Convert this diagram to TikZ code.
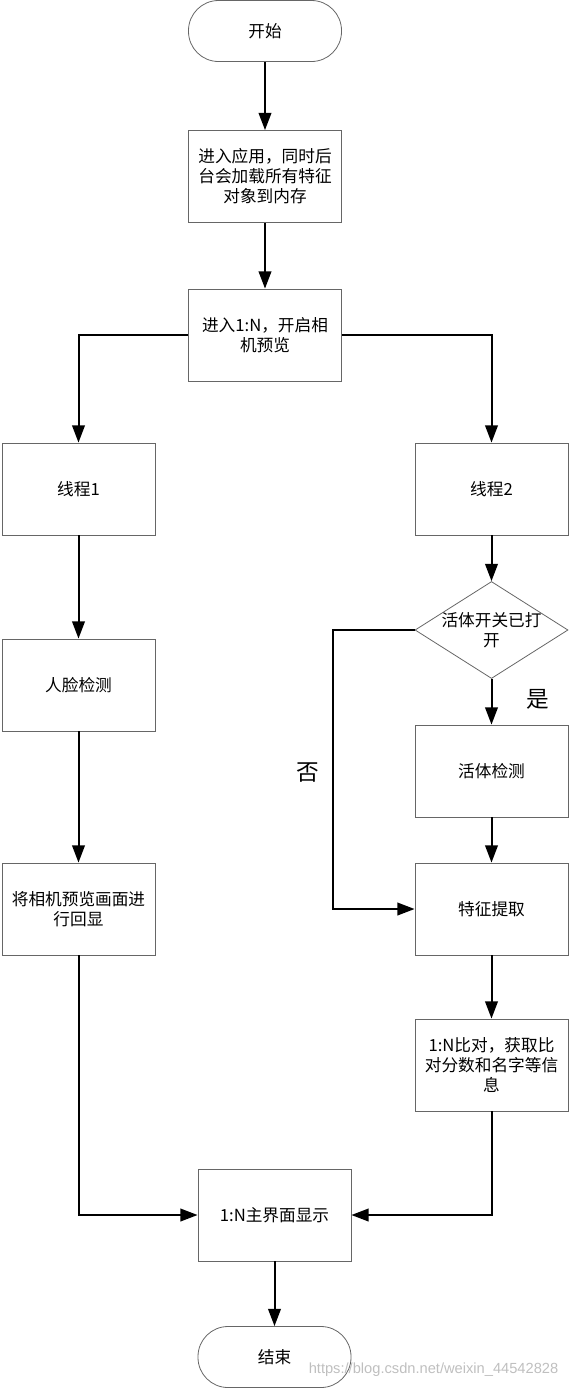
\documentclass[tikz,border=0pt]{standalone}
\usepackage{fontspec}
\setmainfont{Noto Sans CJK SC}
\newfontfamily\urlfont{Liberation Sans}
\usepackage{tikz}
\usetikzlibrary{arrows.meta,positioning,shapes.geometric,calc}
\tikzset{
  flowline/.style = {line width=1.5pt, -{Triangle[length=13pt, width=9.5pt]}},
}

\begin{document}
\begin{tikzpicture}[
  x=0.75pt, y=-0.75pt,
  box/.style={draw=black!60, line width=0.6pt, minimum width=114.75pt, minimum height=69pt,
    align=center, font=\fontsize{12.5pt}{15pt}\selectfont, inner sep=0pt},
  terminal/.style={box, rounded corners=22.5pt, minimum height=45.75pt},
  decision/.style={draw=black!60, line width=0.6pt, diamond, minimum width=114.75pt,
    minimum height=72.75pt, inner sep=0pt},
  txt/.style={align=center, font=\fontsize{12.5pt}{15pt}\selectfont},
  answer/.style={font=\fontsize{17pt}{20pt}\selectfont},
]
\useasboundingbox (0,0) rectangle (570,1389);

% Nodes
\node[terminal] (start) at (265,31) {开始};
\node[box] (load) at (265,176.5) {进入应用，同时后\\台会加载所有特征\\对象到内存};
\node[box] (enter) at (265,335) {进入1:N，开启相\\机预览};
\node[box] (thread1) at (78.5,489) {线程1};
\node[box] (thread2) at (491.5,489) {线程2};
\node[box] (face) at (78.5,685) {人脸检测};
\node[box] (preview) at (78.5,909) {将相机预览画面进\\行回显};
\node[decision] (check) at (491.5,630) {};
\node[txt] (checktext) at (491.5,630) {活体开关已打\\开};
\node[box] (live) at (491.5,771) {活体检测};
\node[box] (feature) at (491.5,909) {特征提取};
\node[box] (compare) at (491.5,1065) {1:N比对，获取比\\对分数和名字等信\\息};
\node[box] (mainui) at (274.5,1215) {1:N主界面显示};
\node[terminal] (finish) at (274.5,1357) {结束};

% Arrows
\draw[flowline] (start) -- (load);
\draw[flowline] (load) -- (enter);
\draw[flowline] (enter.west) -| (thread1.north);
\draw[flowline] (enter.east) -| (thread2.north);
\draw[flowline] (thread1) -- (face);
\draw[flowline] (face) -- (preview);
\draw[flowline] (preview.south) |- (mainui.west);
\draw[flowline] (thread2) -- (check.north);
\draw[flowline] (check.south) -- (live);
\node[answer] (yeslabel) at (538,699) {是};
\draw[flowline] (check.west) -- ++(-82,0) coordinate (nobend) |- (feature.west);
\node[answer] (nolabel) at (308,773) {否};
\draw[flowline] (live) -- (feature);
\draw[flowline] (feature) -- (compare);
\draw[flowline] (compare.south) |- (mainui.east);
\draw[flowline] (mainui) -- (finish);

% Watermark
\node[font=\urlfont\fontsize{11pt}{13pt}\selectfont, text=black!25, anchor=east] (mark) at (563,1370) {https://blog.csdn.net/weixin\_44542828};

\end{tikzpicture}
\end{document}
